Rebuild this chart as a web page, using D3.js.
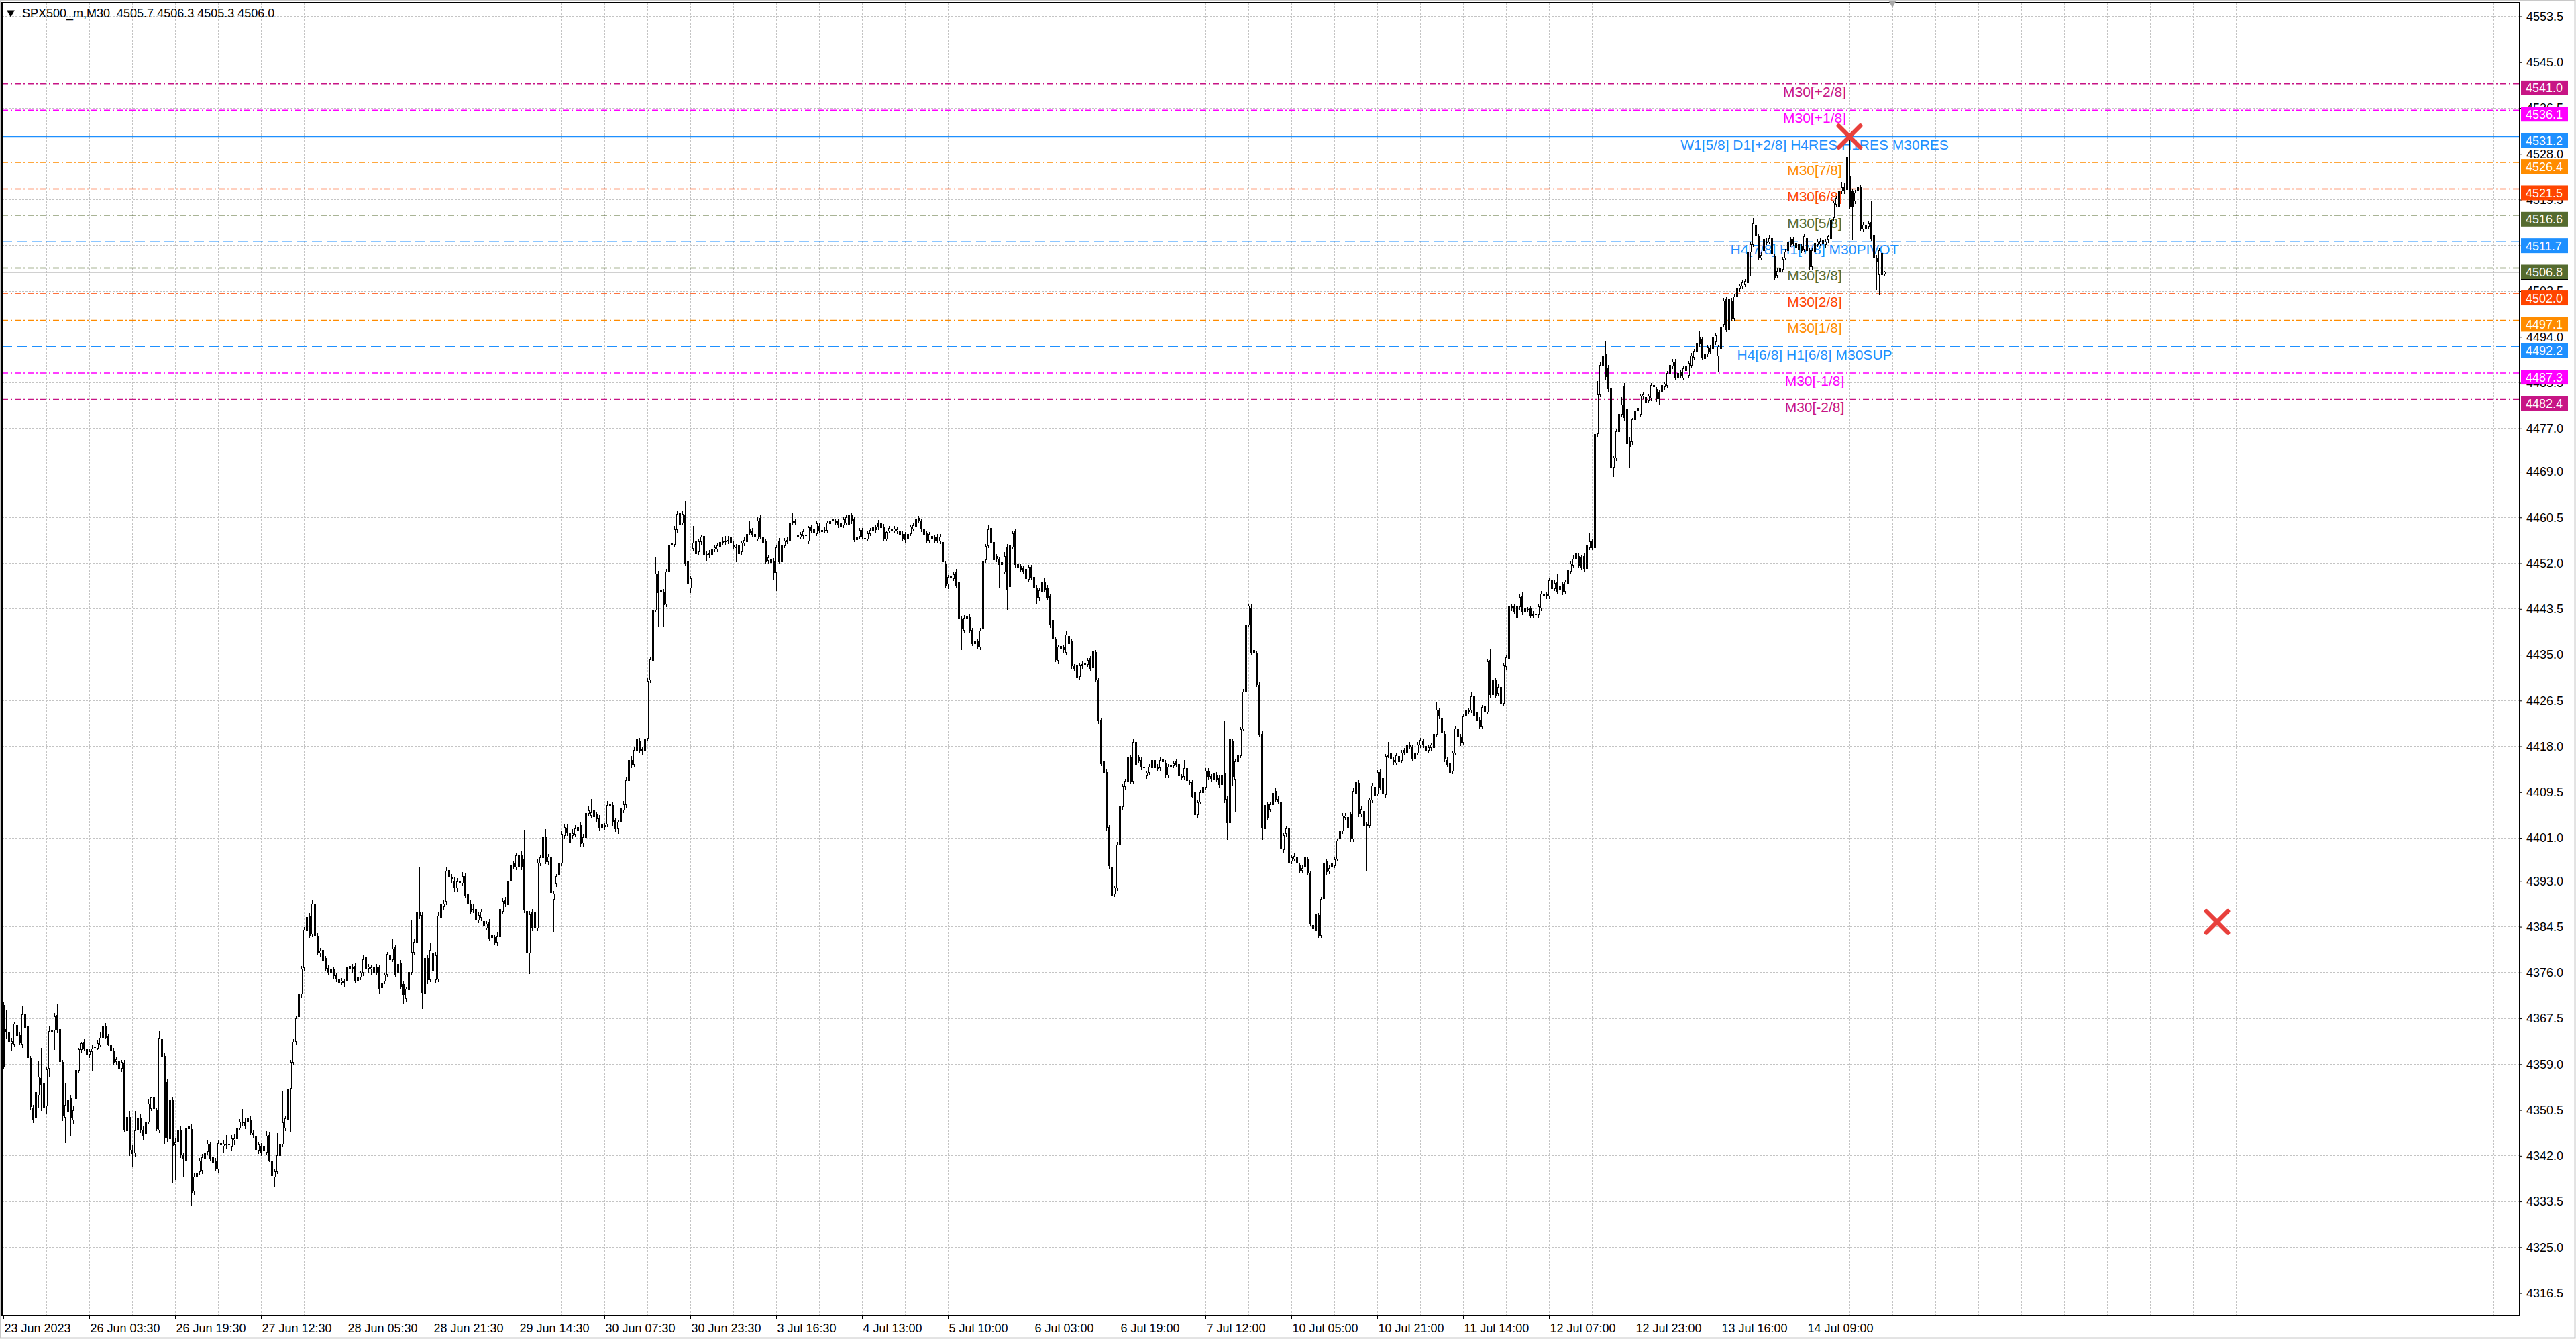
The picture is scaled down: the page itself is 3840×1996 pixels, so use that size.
<!DOCTYPE html>
<html>
<head>
<meta charset="utf-8">
<script src="https://cdn.jsdelivr.net/npm/d3@7"></script>
<style>
  html, body { margin: 0; padding: 0; background: #fff; }
  svg { display: block; font-family: "Liberation Sans", Arial, sans-serif; }
</style>
</head>
<body>
<div id="chart"></div>
<script>
// SPX500_m M30 candles, [open, high, low, close]
const candlesJun23 = [
  [4369.9,4370.6,4358.0,4358.6],[4365.5,4369.0,4363.6,4364.9],[4364.8,4368.2,4362.0,4363.2],[4362.9,4363.8,4361.5,4363.2],[4362.7,4366.9,4362.2,4366.4],
  [4366.2,4366.8,4363.6,4364.3],[4364.3,4365.0,4362.6,4363.0],[4362.7,4369.7,4362.0,4368.2],[4368.3,4369.0,4365.2,4365.7],[4365.9,4366.5,4359.8,4360.2],
  [4360.1,4360.5,4350.5,4351.1],[4350.7,4351.5,4348.1,4348.7],[4349.1,4354.2,4346.6,4353.7],[4353.2,4359.5,4350.8,4356.6],[4356.4,4362.0,4350.3,4355.3],
  [4355.5,4356.0,4347.8,4351.0],[4351.2,4358.5,4349.8,4358.0],[4358.2,4366.0,4356.6,4365.1],[4365.0,4367.8,4364.2,4365.3],[4365.3,4368.5,4361.7,4367.8],
  [4368.1,4370.3,4364.8,4365.4],[4365.4,4366.0,4358.5,4359.5],[4359.3,4359.8,4348.5,4349.4],[4349.1,4355.5,4344.3,4351.4],[4350.1,4359.0,4349.5,4352.2],
  [4352.6,4353.2,4345.6,4349.1],[4348.7,4351.3,4347.9,4350.4],[4352.6,4359.4,4352.0,4357.8],[4357.8,4362.0,4357.4,4361.7],[4361.7,4363.2,4361.0,4362.8],
  [4363.1,4363.6,4361.5,4362.0],[4361.7,4362.4,4357.8,4360.9],[4360.9,4361.9,4360.2,4361.3],[4361.3,4362.5,4357.8,4361.8],[4362.1,4364.9,4361.5,4362.2],
  [4362.0,4363.4,4361.6,4362.8],[4362.6,4364.9,4362.2,4363.8],[4364.0,4366.4,4363.6,4366.1],[4366.1,4366.6,4363.6,4364.0],[4364.2,4364.6,4362.4,4362.6],
  [4362.5,4363.2,4361.0,4361.5],[4361.5,4362.0,4358.9,4359.4],[4359.5,4360.4,4358.8,4359.9],[4359.5,4360.0,4357.6,4358.2],[4358.2,4359.8,4357.6,4359.3],
  [4359.2,4359.8,4346.5,4346.9],[4346.6,4349.6,4340.0,4349.1],[4349.2,4350.3,4342.0,4343.1],[4343.1,4344.0,4340.0,4342.4],[4342.5,4350.3,4341.9,4346.6],
  [4346.8,4350.3,4346.0,4348.9],[4348.9,4349.8,4346.2,4346.8],[4346.7,4347.4,4345.0,4345.8],[4346.0,4348.8,4345.5,4348.3],[4348.3,4352.6,4347.8,4351.6],
  [4350.8,4353.0,4350.3,4352.8],[4352.8,4354.1,4350.2,4350.7],[4350.4,4351.0,4346.6,4347.0],[4346.8,4365.2,4346.2,4363.7],[4363.6,4367.2,4359.8,4360.5],
  [4360.5,4361.2,4344.1,4345.4],[4355.6,4356.3,4344.6,4345.3],[4352.2,4353.2,4344.6,4345.1],[4352.2,4352.8,4336.9,4343.9],[4344.0,4345.2,4337.5,4344.4],
  [4344.5,4347.2,4344.0,4346.6],[4346.8,4347.6,4341.6,4342.2],[4342.0,4342.6,4338.0,4341.4],[4341.2,4349.7,4340.6,4347.1],[4347.5,4348.6,4346.6,4347.0],
  [4346.9,4347.8,4332.8,4335.2],[4335.4,4338.8,4334.6,4338.1],[4338.1,4339.4,4337.2,4338.8],[4339.1,4341.6,4338.4,4341.0],[4339.3,4342.3,4338.6,4341.7],
  [4341.6,4343.2,4341.0,4342.5],[4342.8,4344.9,4342.2,4344.2],[4344.0,4344.5,4341.0,4341.5],[4341.8,4342.4,4340.2,4340.8],[4341.0,4341.6,4339.1,4339.7],
  [4339.5,4344.9,4338.8,4344.3],[4344.3,4345.4,4343.4,4344.0],[4343.8,4344.8,4342.6,4344.1],[4344.0,4345.8,4343.2,4344.2],[4344.2,4345.2,4343.0,4344.0],
  [4343.7,4345.9,4342.8,4345.1],[4344.9,4346.0,4344.0,4345.1],[4345.1,4347.8,4344.4,4347.1],[4347.2,4348.8,4346.8,4348.3],[4348.2,4350.7,4347.6,4348.3],
  [4348.3,4349.0,4347.0,4347.6],[4348.3,4352.6,4347.8,4348.9],[4348.6,4349.4,4345.8,4346.3],[4346.2,4346.8,4345.3,4345.9],[4345.7,4346.3,4342.6,4343.1],
  [4342.9,4344.6,4342.3,4344.0],[4343.8,4344.4,4342.0,4342.7],[4343.8,4344.3,4342.4,4342.9],[4342.7,4346.6,4342.1,4345.7],[4345.8,4346.4,4340.8,4341.2],
  [4341.0,4341.6,4336.9,4338.3],[4338.1,4339.6,4336.3,4339.1],[4339.1,4346.2,4338.6,4342.0],[4342.0,4344.8,4341.4,4344.2],[4344.1,4353.9,4343.6,4348.2],
  [4347.2,4349.4,4346.6,4348.9],[4348.7,4355.1,4348.1,4354.4],[4354.5,4359.8,4346.4,4359.3],[4359.4,4363.6,4358.8,4363.1],[4363.2,4368.0,4362.6,4367.5],
  [4367.8,4372.6,4367.2,4372.0],[4372.0,4377.2,4371.4,4376.6],[4376.9,4384.4,4376.3,4383.9],[4383.7,4387.3,4383.1,4386.2],[4386.4,4387.0,4382.4,4382.9],
  [4383.2,4389.4,4382.6,4388.8],[4388.7,4389.8,4382.3,4382.8],[4382.7,4383.3,4379.4,4379.8],[4379.6,4380.6,4379.0,4380.0],[4380.2,4380.8,4377.8,4378.3],
  [4378.6,4379.1,4376.3,4376.8],[4376.8,4377.4,4375.6,4376.1],[4376.1,4376.9,4375.4,4376.5],[4376.6,4377.1,4374.8,4375.4],[4375.5,4376.0,4374.2,4374.8],
  [4374.8,4375.3,4372.6,4374.0],[4374.2,4375.0,4373.6,4374.4],[4374.4,4374.9,4373.4,4374.2],[4374.4,4378.3,4373.9,4376.9],[4377.1,4378.8,4376.3,4376.7],
  [4376.9,4377.6,4376.0,4376.8],[4377.2,4377.8,4374.0,4374.6],[4374.6,4375.6,4373.8,4375.1],[4375.2,4376.3,4374.6,4375.9],[4376.0,4379.4,4375.4,4378.4],
  [4378.8,4380.2,4376.1,4376.7],[4376.8,4377.6,4376.0,4377.0],[4376.6,4377.5,4375.6,4376.9],[4377.0,4380.9,4375.3,4375.9],[4377.0,4377.6,4375.6,4376.1],
  [4376.9,4377.5,4372.1,4373.1],[4373.2,4374.6,4372.6,4374.1],[4374.4,4375.9,4373.8,4375.5],[4375.7,4379.8,4375.2,4379.4]
];

const candlesJun28 = [
  [4379.3,4379.9,4378.0,4378.4],[4378.4,4382.2,4378.0,4380.4],[4380.6,4381.2,4375.2,4375.7],[4376.0,4378.0,4375.4,4377.5],[4377.7,4378.3,4373.0,4373.4],
  [4373.8,4374.4,4370.3,4371.9],[4371.2,4373.4,4370.6,4372.9],[4372.8,4376.5,4372.2,4376.0],[4376.1,4385.8,4375.6,4379.8],[4379.8,4382.2,4379.2,4381.7],
  [4381.7,4388.4,4381.2,4387.3],[4387.1,4395.7,4386.0,4386.5],[4386.6,4387.2,4369.3,4372.3],[4372.2,4378.9,4371.6,4378.7],[4378.7,4379.4,4373.9,4374.7],
  [4374.7,4381.4,4374.2,4380.1],[4379.7,4380.3,4369.8,4376.3],[4374.7,4379.8,4374.0,4379.2],[4374.8,4387.2,4374.2,4386.5],[4386.2,4391.1,4385.6,4388.7],
  [4388.2,4389.4,4387.6,4388.8],[4389.2,4395.5,4388.6,4394.9],[4395.0,4395.6,4393.2,4393.8],[4393.6,4394.3,4392.6,4393.3],[4392.8,4393.6,4391.0,4391.7],
  [4391.7,4393.5,4391.1,4392.8],[4392.8,4393.8,4392.0,4392.6],[4392.6,4394.6,4392.0,4393.8],[4393.8,4394.4,4389.8,4390.3],[4390.6,4391.2,4388.2,4388.7],
  [4388.8,4389.4,4386.8,4387.4],[4387.7,4388.8,4387.0,4387.7],[4387.7,4388.2,4385.2,4385.8],[4385.8,4387.3,4385.2,4386.6],[4386.2,4387.8,4385.6,4387.2],
  [4385.5,4386.0,4384.0,4384.6],[4384.3,4385.6,4383.8,4385.0],[4385.4,4386.0,4381.8,4382.4],[4382.5,4383.4,4382.0,4382.9],[4382.5,4383.0,4381.1,4381.7],
  [4381.7,4383.4,4381.0,4382.7],[4382.7,4388.2,4382.2,4387.7],[4387.4,4389.8,4386.8,4389.2],[4389.5,4390.1,4388.2,4388.7],[4388.6,4393.5,4388.0,4392.9],
  [4393.1,4396.4,4392.6,4395.8],[4396.2,4396.8,4395.2,4395.7],[4395.6,4398.3,4395.0,4397.7],[4397.8,4398.4,4395.1,4395.7],[4397.8,4398.5,4395.0,4395.6],
  [4396.9,4402.5,4387.1,4387.7],[4387.4,4388.0,4379.1,4379.7],[4379.7,4387.4,4375.7,4386.8],[4387.1,4387.8,4383.7,4384.3],[4387.1,4388.0,4383.8,4384.3],
  [4384.3,4397.0,4383.7,4396.3],[4396.4,4397.9,4395.8,4397.3],[4397.3,4401.6,4396.8,4401.1],[4401.2,4402.6,4396.1,4396.6],[4396.6,4398.0,4396.0,4397.4],
  [4397.4,4398.0,4390.4,4390.9],[4389.6,4391.2,4383.6,4390.6],[4392.5,4394.3,4391.9,4393.8],[4394.1,4396.8,4393.6,4396.3],[4396.3,4402.2,4395.8,4401.7],
  [4401.4,4403.6,4400.8,4403.0],[4402.8,4403.5,4401.4,4402.0],[4400.1,4402.4,4399.6,4401.8],[4401.5,4402.6,4400.8,4401.8],[4401.7,4403.4,4401.2,4402.7],
  [4402.4,4403.8,4401.8,4403.0],[4403.3,4404.0,4399.4,4399.9],[4400.1,4401.8,4399.4,4401.1],[4401.1,4406.2,4400.6,4405.5],[4405.5,4406.8,4405.0,4406.0],
  [4405.2,4408.2,4404.7,4405.7],[4406.0,4406.6,4404.3,4404.9],[4405.3,4405.9,4404.0,4404.6],[4404.7,4405.2,4402.2,4402.8],[4402.8,4404.0,4402.2,4403.4],
  [4403.1,4403.8,4402.5,4403.3],[4403.6,4407.8,4403.0,4407.1],[4407.1,4408.7,4406.5,4407.2],[4407.0,4407.6,4403.3,4403.9],[4404.2,4404.8,4402.1,4402.7],
  [4402.7,4404.4,4401.8,4403.9],[4404.1,4406.9,4403.6,4406.5],[4406.2,4407.8,4405.6,4407.2],[4407.2,4412.3,4406.6,4411.7],[4411.6,4415.9,4411.0,4415.4],
  [4415.4,4416.2,4414.0,4414.6],[4414.7,4417.8,4414.1,4417.3],[4419.2,4421.7,4416.8,4417.3],[4418.9,4419.6,4416.7,4417.3],[4417.4,4418.0,4416.4,4417.2],
  [4417.3,4419.8,4416.6,4419.2],[4419.5,4430.6,4419.0,4430.1],[4430.3,4434.6,4429.8,4434.1],[4433.8,4443.8,4433.2,4443.3],[4443.3,4453.2,4442.8,4450.0],
  [4450.0,4450.6,4440.1,4446.5],[4446.8,4448.0,4445.6,4446.9],[4446.6,4447.2,4440.1,4444.3],[4444.4,4450.9,4443.8,4450.4],[4450.4,4455.8,4449.9,4455.2],
  [4455.4,4456.3,4454.8,4455.7],[4455.5,4458.9,4455.0,4458.2],[4458.2,4461.6,4457.7,4461.1],[4461.2,4461.8,4458.7,4459.2],[4459.5,4461.7,4459.0,4461.1],
  [4460.8,4463.5,4451.4,4451.9],[4452.2,4452.8,4447.6,4448.1],[4447.4,4449.6,4446.5,4449.2],[4454.7,4458.9,4454.2,4455.7],[4456.0,4456.6,4453.4,4453.8],
  [4454.1,4456.5,4453.6,4456.0],[4456.0,4457.3,4455.4,4456.8],[4457.0,4457.6,4453.1,4453.6],[4453.6,4454.2,4452.5,4453.5],[4453.6,4454.4,4453.0,4453.8],
  [4453.6,4455.1,4453.0,4454.6],[4454.6,4455.4,4454.0,4454.9],[4454.6,4455.8,4454.1,4455.2],[4455.0,4456.4,4454.5,4455.9],[4456.0,4456.8,4455.4,4456.0],
  [4456.0,4457.0,4455.3,4456.1],[4456.2,4457.1,4455.6,4456.3],[4455.7,4457.4,4455.2,4456.8],[4455.4,4456.0,4454.6,4455.0],[4455.0,4455.6,4452.2,4454.9],
  [4453.8,4455.9,4453.2,4455.4],[4454.1,4456.2,4453.6,4455.7],[4455.7,4456.9,4455.2,4456.3],[4456.0,4457.9,4455.4,4457.3],[4458.2,4459.8,4457.2,4457.6],
  [4458.0,4458.6,4456.9,4457.4],[4457.4,4458.0,4456.3,4456.8],[4456.5,4460.5,4456.0,4459.8],[4460.3,4460.9,4456.4,4457.0],[4456.8,4457.4,4455.2,4455.7],
  [4456.0,4456.6,4451.8,4452.3],[4452.5,4453.6,4452.0,4453.0],[4452.7,4453.3,4451.5,4452.1],[4452.3,4452.9,4449.0,4450.3],[4450.3,4455.4,4446.8,4454.9],
  [4456.1,4456.7,4451.8,4452.3],[4452.2,4455.9,4451.6,4455.4],[4455.2,4456.7,4454.8,4456.1],[4456.0,4456.9,4455.5,4456.3],[4456.3,4459.9,4455.8,4459.3]
];

const candlesJul03 = [
  [4459.6,4461.3,4459.0,4459.7],[4459.7,4460.3,4459.1,4459.6],[4456.9,4457.6,4456.4,4457.1],[4456.9,4457.8,4456.5,4457.4],[4457.1,4458.3,4456.6,4457.8],
  [4457.1,4457.6,4455.3,4457.2],[4456.1,4458.9,4455.6,4458.6],[4458.6,4459.2,4457.6,4458.1],[4458.4,4458.9,4457.1,4457.6],[4457.5,4459.8,4457.0,4459.3],
  [4458.9,4459.5,4457.6,4458.1],[4457.8,4458.6,4457.3,4458.1],[4458.0,4458.7,4457.5,4458.1],[4458.1,4459.9,4457.6,4459.5],[4459.3,4460.4,4458.8,4459.9],
  [4460.1,4460.7,4459.4,4459.9],[4459.8,4460.3,4459.0,4459.5],[4459.7,4460.2,4458.6,4459.1],[4458.9,4460.0,4458.4,4459.5],[4459.1,4460.6,4458.6,4460.1],
  [4459.5,4461.0,4459.0,4460.5],[4459.1,4461.5,4458.6,4460.8],[4460.8,4461.3,4459.3,4459.8],[4460.1,4460.6,4455.9,4456.4],[4456.4,4457.4,4455.9,4456.9],
  [4457.0,4458.6,4456.5,4458.1],[4458.1,4458.6,4456.5,4457.0],[4456.5,4457.1,4454.3,4456.6],[4456.5,4457.9,4456.0,4457.5],[4457.5,4458.6,4457.0,4458.1],
  [4458.1,4459.1,4457.6,4458.6],[4458.6,4459.1,4457.7,4458.2],[4459.5,4460.0,4458.2,4458.7],[4459.5,4460.0,4458.1,4458.6],[4458.7,4459.3,4456.0,4456.5],
  [4456.5,4458.1,4456.0,4457.7],[4458.0,4458.9,4457.5,4458.5],[4458.4,4458.9,4457.6,4458.1],[4458.0,4458.9,4457.5,4458.4],[4458.0,4458.7,4457.4,4458.2],
  [4458.0,4458.5,4456.8,4457.3],[4457.4,4457.9,4456.0,4456.5],[4457.3,4457.8,4455.7,4456.4],[4456.6,4457.8,4456.1,4457.3],[4457.5,4459.2,4457.0,4458.7],
  [4458.4,4459.4,4457.9,4459.0],[4458.7,4460.6,4458.2,4460.2],[4460.4,4460.8,4459.5,4460.0],[4459.7,4460.2,4457.8,4458.3],[4458.2,4458.7,4456.9,4457.4],
  [4457.5,4458.0,4455.8,4456.3],[4456.3,4457.8,4455.8,4457.3],[4457.0,4457.5,4456.0,4456.5],[4456.8,4457.3,4455.8,4456.3],[4456.9,4457.4,4455.8,4456.3],
  [4456.1,4457.4,4455.6,4456.9],[4455.9,4456.4,4451.7,4452.2],[4451.9,4452.4,4447.4,4447.9],[4448.2,4449.8,4447.2,4449.4],[4449.6,4450.1,4448.9,4449.4],
  [4449.2,4450.4,4448.7,4449.9],[4450.4,4450.9,4447.4,4447.9],[4448.4,4448.9,4441.3,4441.8],[4441.7,4442.2,4435.9,4439.8],[4439.5,4442.3,4439.0,4441.8],
  [4441.7,4443.3,4441.2,4442.2],[4442.0,4442.6,4439.0,4439.5],[4439.5,4440.0,4436.6,4437.1],[4437.1,4438.1,4434.6,4437.6],[4437.4,4437.9,4436.0,4436.6],
  [4436.4,4440.0,4435.9,4439.4],[4439.8,4452.8,4439.3,4452.3],[4452.6,4455.6,4452.1,4455.1],[4455.3,4459.2,4454.8,4458.2],[4458.5,4459.3,4455.3,4455.8],
  [4455.9,4456.4,4452.1,4452.6],[4453.2,4453.7,4452.2,4452.7],[4452.7,4453.2,4447.4,4451.8],[4452.1,4452.6,4451.3,4451.8],[4450.4,4454.0,4449.9,4453.3],
  [4455.0,4455.5,4443.3,4447.2],[4447.6,4455.8,4447.1,4455.3],[4455.0,4458.0,4454.5,4457.5],[4457.8,4458.3,4451.2,4451.7],[4451.8,4452.3,4450.6,4451.1],
  [4451.5,4452.0,4450.4,4450.9],[4451.0,4451.5,4450.0,4450.5],[4450.9,4451.4,4448.6,4449.1],[4449.0,4451.7,4448.5,4451.2],[4451.2,4451.7,4448.8,4449.4],
  [4449.4,4449.9,4446.9,4447.4],[4447.4,4447.9,4444.5,4445.5],[4445.7,4447.5,4445.0,4446.9],[4446.8,4448.8,4446.3,4448.4],[4448.4,4449.2,4446.7,4447.2],
  [4447.4,4447.9,4445.2,4445.7],[4445.8,4446.3,4440.0,4440.5],[4441.4,4441.9,4437.4,4437.9],[4437.8,4438.3,4433.6,4434.1],[4433.9,4436.9,4433.3,4436.4],
  [4436.1,4437.1,4435.6,4436.6],[4436.4,4436.9,4435.4,4435.9],[4435.4,4439.4,4434.9,4438.7],[4438.4,4438.9,4436.6,4437.1],[4437.4,4437.9,4432.4,4432.9],
  [4432.8,4433.3,4432.0,4432.5],[4432.9,4433.4,4430.3,4430.8],[4430.9,4433.4,4430.4,4432.9],[4432.9,4433.7,4432.4,4433.2],[4433.4,4433.9,4432.7,4433.2],
  [4433.2,4434.4,4432.7,4433.9],[4434.3,4434.8,4432.0,4432.5],[4432.6,4436.1,4432.1,4435.6],[4435.4,4435.9,4429.9,4430.4],[4430.3,4430.8,4422.2,4422.7],
  [4422.8,4423.3,4414.3,4414.8],[4415.2,4415.7,4410.8,4413.0],[4413.2,4413.7,4402.4,4402.9],[4402.9,4403.4,4395.3,4395.8],[4395.5,4396.0,4389.1,4390.4],
  [4390.6,4392.2,4390.1,4391.7],[4391.7,4400.2,4391.2,4399.7],[4399.7,4407.3,4399.2,4406.8],[4406.8,4411.0,4406.3,4410.5],[4410.5,4412.0,4410.0,4411.5],
  [4411.5,4416.4,4411.0,4415.9],[4415.9,4416.4,4411.0,4411.5],[4411.5,4419.4,4411.0,4418.7],[4418.7,4419.2,4414.2,4414.7],[4415.9,4416.4,4414.9,4415.4],
  [4415.4,4415.9,4413.6,4414.1],[4414.2,4414.7,4413.5,4414.0],[4412.5,4413.5,4412.0,4413.0],[4413.2,4414.7,4412.7,4414.2],[4414.0,4415.9,4413.5,4415.4],
  [4415.4,4415.9,4413.5,4414.0],[4414.2,4414.7,4413.3,4413.8],[4414.0,4415.9,4413.5,4415.4],[4415.2,4416.7,4414.7,4415.7],[4414.9,4415.4,4412.2,4412.7],
  [4412.7,4414.7,4412.2,4414.2],[4414.1,4414.9,4413.6,4414.4],[4414.4,4415.2,4413.9,4414.8],[4415.2,4415.7,4414.2,4414.5],[4414.7,4415.2,4412.0,4412.5]
];

const candlesJul07 = [
  [4412.4,4412.9,4411.7,4412.1],[4412.4,4415.4,4411.9,4413.9],[4413.9,4414.4,4411.1,4411.6],[4411.4,4411.9,4410.9,4411.3],[4411.4,4411.9,4408.5,4408.7],
  [4409.4,4409.9,4404.8,4405.3],[4405.3,4408.0,4404.6,4407.5],[4407.7,4409.9,4407.2,4409.4],[4409.4,4410.9,4408.9,4410.4],[4410.4,4414.0,4409.9,4413.4],
  [4413.4,4413.9,4411.9,4412.4],[4412.4,4412.9,4411.5,4412.0],[4411.9,4413.4,4411.4,4412.9],[4412.7,4413.2,4411.4,4411.9],[4412.1,4412.6,4410.4,4410.9],
  [4410.9,4413.1,4410.4,4412.6],[4412.9,4422.7,4407.5,4408.0],[4408.2,4408.7,4400.6,4403.8],[4403.8,4419.8,4403.3,4419.3],[4419.0,4419.5,4410.7,4412.4],
  [4411.9,4415.7,4405.8,4415.2],[4415.1,4416.8,4414.6,4416.3],[4416.3,4421.6,4415.8,4421.1],[4421.3,4428.6,4420.8,4428.1],[4428.1,4440.9,4427.6,4440.4],
  [4440.6,4444.4,4440.1,4444.0],[4443.7,4444.4,4435.0,4435.5],[4435.8,4436.3,4434.9,4435.4],[4435.3,4435.8,4429.0,4429.5],[4429.4,4429.9,4419.8,4420.3],
  [4420.3,4420.8,4400.6,4403.0],[4402.7,4407.6,4402.2,4407.1],[4407.2,4407.7,4404.3,4404.8],[4406.3,4407.7,4405.8,4407.2],[4407.2,4409.8,4406.7,4409.3],
  [4409.7,4410.2,4407.7,4408.2],[4408.2,4408.7,4407.2,4407.7],[4407.7,4408.2,4398.4,4398.9],[4398.8,4401.9,4398.3,4401.4],[4401.8,4403.2,4401.3,4402.7],
  [4402.8,4403.3,4395.9,4396.4],[4396.7,4397.8,4396.2,4397.3],[4397.1,4398.1,4396.6,4397.6],[4397.4,4397.9,4395.8,4396.3],[4395.9,4396.4,4394.4,4394.9],
  [4395.0,4395.9,4394.5,4395.4],[4395.7,4397.8,4395.2,4397.3],[4397.0,4397.5,4394.0,4394.5],[4394.4,4394.9,4384.6,4385.1],[4384.7,4385.2,4382.1,4384.1],
  [4383.7,4387.3,4383.2,4386.8],[4386.6,4387.1,4382.4,4382.9],[4382.9,4390.1,4382.4,4389.6],[4389.8,4396.9,4389.3,4396.4],[4396.7,4397.2,4394.2,4394.7],
  [4394.8,4395.9,4394.3,4395.4],[4395.7,4396.7,4395.2,4396.2],[4395.9,4397.5,4395.4,4397.0],[4397.1,4400.9,4396.6,4400.4],[4400.8,4402.8,4400.3,4402.3],
  [4402.3,4405.6,4401.8,4405.1],[4404.8,4405.6,4404.3,4405.1],[4404.8,4405.3,4402.3,4402.8],[4405.4,4405.9,4400.3,4400.8],[4400.8,4410.2,4400.3,4409.7],
  [4409.2,4417.2,4408.7,4411.4],[4411.2,4411.7,4404.9,4405.4],[4405.4,4406.8,4404.9,4406.3],[4405.9,4406.4,4398.9,4403.3],[4403.4,4403.9,4394.9,4403.2],
  [4403.3,4408.5,4402.8,4408.0],[4408.0,4411.2,4407.5,4410.7],[4410.4,4410.9,4408.3,4408.8],[4409.2,4413.6,4408.7,4413.1],[4413.2,4413.7,4409.9,4410.4],
  [4412.1,4412.6,4408.7,4409.2],[4409.0,4416.6,4408.5,4416.1],[4416.2,4418.8,4415.8,4416.3],[4416.7,4417.2,4415.3,4415.8],[4415.2,4415.9,4414.6,4415.4],
  [4414.9,4416.8,4414.4,4416.3],[4416.2,4416.7,4414.7,4415.2],[4415.4,4417.3,4414.9,4416.8],[4417.2,4417.7,4416.3,4416.8],[4416.8,4418.8,4416.3,4418.3],
  [4418.3,4418.8,4417.5,4418.0],[4417.8,4418.3,4415.2,4415.7],[4415.6,4417.3,4415.1,4416.8],[4416.8,4418.8,4416.3,4418.3],[4418.2,4419.6,4417.7,4419.1],
  [4419.0,4419.5,4417.7,4418.2],[4418.0,4418.5,4416.6,4417.1],[4417.3,4418.3,4416.8,4417.8],[4417.7,4418.7,4417.2,4418.2],[4417.8,4420.8,4417.3,4420.3],
  [4420.3,4426.2,4419.8,4424.7],[4424.7,4425.2,4423.1,4423.6],[4423.2,4423.7,4420.1,4420.6],[4420.3,4420.8,4415.1,4415.6],[4415.4,4415.9,4414.2,4414.7],
  [4414.9,4415.4,4410.2,4413.2],[4413.4,4417.2,4412.9,4416.7],[4416.8,4421.8,4416.3,4421.3],[4421.3,4421.8,4419.3,4419.8],[4419.8,4420.3,4418.1,4418.6],
  [4418.8,4424.0,4418.3,4423.5],[4423.6,4425.2,4423.1,4424.7],[4424.7,4425.2,4423.9,4424.4],[4424.7,4428.1,4424.2,4427.2],[4427.4,4427.9,4423.1,4423.6],
  [4424.2,4424.7,4413.1,4422.7],[4422.9,4423.4,4421.2,4421.7],[4421.7,4425.7,4421.2,4425.2],[4425.4,4425.9,4424.0,4424.5],[4424.4,4434.2,4423.9,4433.7],
  [4433.9,4436.0,4426.9,4427.6],[4427.6,4430.8,4427.1,4430.3],[4430.3,4430.8,4427.0,4427.5],[4427.9,4429.5,4427.4,4429.0],[4429.0,4429.5,4425.5,4426.0],
  [4426.0,4433.4,4425.5,4432.9],[4432.8,4435.0,4432.3,4434.5],[4434.3,4449.3,4433.8,4444.0],[4443.9,4444.4,4443.1,4443.6],[4443.9,4444.4,4442.6,4443.1],
  [4441.9,4444.4,4441.4,4443.9],[4443.9,4446.2,4443.4,4445.7],[4445.9,4446.6,4442.4,4442.9],[4443.6,4444.1,4442.5,4443.0],[4443.4,4443.9,4442.9,4443.4],
  [4443.5,4444.0,4441.8,4442.3],[4442.6,4443.1,4441.8,4442.3],[4442.6,4443.1,4442.0,4442.4],[4442.4,4444.4,4441.9,4443.9],[4443.6,4446.8,4443.1,4446.3],
  [4446.3,4446.8,4445.4,4445.9],[4446.1,4446.6,4445.4,4445.9],[4445.9,4449.3,4445.4,4448.8],[4448.9,4449.4,4446.8,4447.3],[4447.3,4448.8,4446.8,4448.3],
  [4448.5,4449.9,4446.3,4446.8],[4447.1,4448.3,4446.6,4447.8],[4448.1,4448.6,4446.1,4446.6],[4446.8,4449.0,4446.3,4448.5],[4448.3,4451.5,4447.8,4450.8]
];

const candlesJul12 = [
  [4450.5,4452.4,4450.0,4451.9],[4451.6,4453.5,4451.1,4452.7],[4452.7,4454.3,4452.2,4453.8],[4453.3,4453.8,4451.1,4451.6],[4453.0,4453.5,4450.8,4451.3],
  [4453.3,4453.8,4450.5,4451.0],[4451.0,4455.7,4450.5,4455.2],[4454.9,4457.7,4454.4,4456.0],[4456.0,4456.5,4454.4,4454.9],[4454.9,4476.4,4454.4,4475.9],
  [4476.0,4485.8,4475.5,4483.3],[4483.3,4489.3,4482.8,4488.8],[4488.8,4491.9,4488.3,4490.5],[4490.8,4493.2,4486.1,4486.6],[4488.3,4488.8,4483.8,4484.4],
  [4484.4,4484.9,4467.9,4469.8],[4469.8,4472.0,4468.0,4471.5],[4471.5,4476.8,4471.0,4476.4],[4476.4,4480.2,4475.9,4479.7],[4479.7,4482.8,4479.2,4481.4],
  [4484.8,4485.5,4478.4,4479.0],[4480.5,4481.0,4473.7,4474.2],[4474.6,4475.4,4469.8,4473.5],[4474.5,4479.0,4473.9,4478.6],[4478.6,4480.7,4478.1,4480.3],
  [4480.3,4481.4,4479.6,4480.8],[4479.7,4483.5,4479.2,4483.0],[4483.0,4483.8,4482.4,4483.3],[4482.8,4483.3,4481.4,4481.9],[4482.2,4483.5,4481.7,4483.0],
  [4482.6,4485.5,4482.1,4485.0],[4484.8,4486.0,4484.3,4485.0],[4484.2,4484.7,4482.0,4482.5],[4483.6,4484.1,4481.3,4482.5],[4483.9,4485.5,4483.4,4485.0],
  [4484.7,4485.7,4484.2,4485.2],[4485.0,4487.7,4484.5,4487.2],[4487.2,4489.2,4486.7,4488.7],[4488.6,4489.9,4488.1,4489.4],[4489.4,4489.9,4485.9,4486.4],
  [4487.2,4487.7,4486.0,4486.5],[4487.4,4487.9,4486.3,4486.8],[4486.4,4488.6,4485.9,4488.1],[4488.6,4489.1,4487.2,4487.7],[4486.9,4489.6,4486.4,4489.1],
  [4488.8,4491.0,4488.3,4490.5],[4490.2,4491.8,4489.7,4491.3],[4491.3,4493.2,4490.8,4492.7],[4493.8,4495.2,4492.2,4492.7],[4493.5,4494.0,4489.7,4490.2],
  [4490.8,4491.3,4489.5,4490.0],[4490.8,4492.5,4490.3,4492.0],[4491.9,4492.4,4490.8,4491.3],[4491.9,4494.3,4491.4,4493.8],[4493.1,4494.7,4492.6,4494.2],
  [4490.5,4492.6,4487.6,4492.1],[4491.9,4496.2,4491.4,4495.7],[4496.3,4501.2,4495.8,4500.7],[4501.0,4501.5,4494.9,4495.4],[4495.4,4501.5,4494.9,4501.0],
  [4500.7,4501.2,4496.9,4497.5],[4497.4,4501.9,4496.9,4501.4],[4501.4,4503.4,4500.9,4502.9],[4502.9,4503.9,4502.4,4503.4],[4503.4,4504.6,4502.9,4504.1],
  [4503.7,4504.8,4503.2,4504.3],[4504.0,4510.3,4499.5,4509.8],[4509.8,4511.7,4505.4,4511.2],[4511.2,4516.1,4510.7,4515.0],[4514.8,4521.1,4512.3,4512.8],
  [4512.6,4513.1,4508.2,4508.7],[4508.7,4509.7,4508.2,4509.2],[4510.1,4512.5,4509.6,4512.0],[4511.7,4512.3,4511.1,4511.6],[4511.7,4512.8,4511.2,4512.3],
  [4512.3,4512.8,4509.0,4509.5],[4509.0,4509.5,4504.6,4505.1],[4505.4,4506.7,4504.9,4506.2],[4506.2,4507.3,4505.7,4506.8],[4506.5,4508.9,4506.0,4508.4],
  [4508.7,4510.3,4508.2,4509.8],[4510.1,4512.2,4509.6,4511.7],[4512.0,4512.5,4510.7,4511.2],[4512.0,4512.5,4510.9,4511.4],[4511.4,4511.9,4510.1,4510.6],
  [4510.3,4511.7,4509.8,4511.2],[4510.9,4511.4,4509.6,4510.1],[4510.3,4513.1,4509.8,4512.6],[4512.3,4512.8,4509.6,4510.1],[4510.1,4510.6,4506.5,4507.0],
  [4507.0,4510.6,4506.5,4510.1],[4509.8,4511.9,4509.3,4511.4],[4511.2,4512.2,4510.7,4511.7],[4511.3,4512.3,4510.8,4511.8],[4511.3,4512.4,4510.8,4511.9],
  [4511.2,4512.2,4510.6,4511.7],[4512.0,4513.0,4511.5,4512.6],[4512.3,4515.9,4511.8,4515.6],[4516.1,4519.2,4515.6,4518.9],[4518.6,4520.2,4518.1,4519.7],
  [4518.3,4521.6,4517.8,4521.1],[4521.1,4522.8,4520.6,4521.8],[4521.8,4522.5,4520.6,4521.1],[4521.4,4528.8,4520.9,4527.4],[4523.9,4530.9,4517.8,4518.3],
  [4521.1,4521.6,4512.0,4518.3],[4519.2,4521.3,4518.7,4520.8],[4521.1,4525.0,4520.6,4521.8],[4521.7,4522.2,4513.7,4514.2],[4514.0,4515.3,4513.5,4514.8],
  [4514.0,4515.3,4508.7,4514.8],[4514.5,4515.5,4514.0,4515.0],[4515.3,4519.2,4511.8,4512.3],[4512.8,4513.3,4508.2,4508.7],[4508.7,4509.2,4502.6,4507.9],
  [4505.6,4510.6,4501.7,4510.1],[4509.5,4510.0,4505.1,4505.6],[4505.7,4506.3,4505.3,4506.0]
];

// time axis: one label every 32 bars, starting at the first bar
const timeLabels = ["23 Jun 2023", "26 Jun 03:30", "26 Jun 19:30", "27 Jun 12:30", "28 Jun 05:30", "28 Jun 21:30",
  "29 Jun 14:30", "30 Jun 07:30", "30 Jun 23:30", "3 Jul 16:30", "4 Jul 13:00", "5 Jul 10:00", "6 Jul 03:00",
  "6 Jul 19:00", "7 Jul 12:00", "10 Jul 05:00", "10 Jul 21:00", "11 Jul 14:00", "12 Jul 07:00", "12 Jul 23:00",
  "13 Jul 16:00", "14 Jul 09:00"];
const barsPerTimeLabel = 32;

const priceTicks = [4553.5, 4545.0, 4536.5, 4528.0, 4519.5, 4511.0, 4502.5, 4494.0, 4485.5, 4477.0, 4469.0,
  4460.5, 4452.0, 4443.5, 4435.0, 4426.5, 4418.0, 4409.5, 4401.0, 4393.0, 4384.5, 4376.0, 4367.5, 4359.0,
  4350.5, 4342.0, 4333.5, 4325.0, 4316.5];

// Murrey math levels drawn by the indicator
const levelPrices = [4541.0, 4536.1, 4531.2, 4526.4, 4521.5, 4516.6, 4511.7, 4506.8, 4502.0, 4497.1, 4492.2, 4487.3, 4482.4];
const levelNames = ["M30[+2/8]", "M30[+1/8]", "W1[5/8] D1[+2/8] H4RES H1RES M30RES", "M30[7/8]", "M30[6/8]", "M30[5/8]",
  "H4[7/8] H1[7/8] M30PIVOT", "M30[3/8]", "M30[2/8]", "M30[1/8]", "H4[6/8] H1[6/8] M30SUP", "M30[-1/8]", "M30[-2/8]"];
const levelKinds = ["ext2", "ext1", "res", "l71", "l62", "l53", "pivot", "l53", "l62", "l71", "sup", "ext1", "ext2"];
const levelTextBar = 675;

const symbolTitle = "SPX500_m,M30  4505.7 4506.3 4505.3 4506.0";
const bidPrice = 4506.0;
// red crosses placed by the indicator: [bar index, price]
const crossMarks = [[688, 4531.2], [825, 4385.4]];

// ---- styles and layout ----
const levelStyle = {
  ext2:  { color: "#C71585", dash: "9,4,2,4" },
  ext1:  { color: "#FF00FF", dash: "9,4,2,4" },
  res:   { color: "#1E90FF", dash: null },
  l71:   { color: "#FF8C00", dash: "9,4,2,4" },
  l62:   { color: "#FF4500", dash: "9,4,2,4" },
  l53:   { color: "#556B2F", dash: "9,4,2,4" },
  pivot: { color: "#1E90FF", dash: "15,7" },
  sup:   { color: "#1E90FF", dash: "15,7" }
};

const W = 3840, H = 1996;
const plot = { left: 3, top: 4, right: 3756, bottom: 1961 };
const barStep = 4;
const font = '"Liberation Sans", Arial, sans-serif';

const candles = [].concat(candlesJun23, candlesJun28, candlesJul03, candlesJul07, candlesJul12);

const x = d3.scaleLinear().domain([0, 1]).range([plot.left + 2, plot.left + 2 + barStep]);
const y = d3.scaleLinear().domain([4316.5, 4553.5]).range([1927.6, 24.5]);

const svg = d3.select("#chart").append("svg")
  .attr("width", W).attr("height", H)
  .attr("viewBox", `0 0 ${W} ${H}`);

svg.append("rect").attr("width", W).attr("height", H).attr("fill", "#fff");

svg.append("defs").append("clipPath").attr("id", "plotclip")
  .append("rect")
  .attr("x", plot.left).attr("y", plot.top)
  .attr("width", plot.right - plot.left).attr("height", plot.bottom - plot.top);

const inner = svg.append("g").attr("clip-path", "url(#plotclip)");

// grid
const lastGridBar = Math.floor(x.invert(plot.right));
inner.append("g").selectAll("line")
  .data(d3.range(16, lastGridBar + 1, 16))
  .join("line")
  .attr("x1", d => x(d)).attr("x2", d => x(d))
  .attr("y1", plot.top).attr("y2", plot.bottom)
  .attr("stroke", "#c4c4c4").attr("stroke-width", 1)
  .attr("stroke-dasharray", "3,2")
  .attr("shape-rendering", "crispEdges");

inner.append("g").selectAll("line")
  .data(priceTicks)
  .join("line")
  .attr("x1", plot.left).attr("x2", plot.right)
  .attr("y1", d => y(d)).attr("y2", d => y(d))
  .attr("stroke", "#c4c4c4").attr("stroke-width", 1)
  .attr("stroke-dasharray", "3,2")
  .attr("shape-rendering", "crispEdges");

// level lines
inner.append("g").selectAll("line")
  .data(levelPrices)
  .join("line")
  .attr("x1", plot.left).attr("x2", plot.right)
  .attr("y1", d => y(d)).attr("y2", d => y(d))
  .attr("stroke", (d, i) => levelStyle[levelKinds[i]].color)
  .attr("stroke-width", 1.5)
  .attr("stroke-dasharray", (d, i) => levelStyle[levelKinds[i]].dash);

// bid line
inner.append("line")
  .attr("x1", plot.left).attr("x2", plot.right)
  .attr("y1", y(bidPrice)).attr("y2", y(bidPrice))
  .attr("stroke", "#c0c0c0").attr("stroke-width", 1.5);

// level captions (candles are drawn over them)
inner.append("g").selectAll("text")
  .data(levelPrices)
  .join("text")
  .attr("x", x(levelTextBar))
  .attr("y", d => y(d) + 19)
  .attr("text-anchor", "middle")
  .attr("font-family", font)
  .attr("font-size", 21)
  .attr("fill", (d, i) => levelStyle[levelKinds[i]].color)
  .text((d, i) => levelNames[i]);

// candles: 1px wicks and outlines, white body up, black body down
const cg = inner.append("g").attr("shape-rendering", "crispEdges");
cg.selectAll("line")
  .data(candles)
  .join("line")
  .attr("x1", (d, i) => x(i) + 0.5).attr("x2", (d, i) => x(i) + 0.5)
  .attr("y1", d => y(d[1])).attr("y2", d => y(d[2]))
  .attr("stroke", "#000").attr("stroke-width", 1);

cg.selectAll("rect")
  .data(candles)
  .join("rect")
  .attr("x", (d, i) => x(i) - 0.5)
  .attr("width", 2)
  .attr("y", d => y(Math.max(d[0], d[3])))
  .attr("height", d => Math.max(1, Math.abs(y(d[0]) - y(d[3]))))
  .attr("fill", d => d[3] >= d[0] ? "#fff" : "#000")
  .attr("stroke", "#000").attr("stroke-width", 1);

// red crosses
svg.append("g").selectAll("path")
  .data(crossMarks)
  .join("path")
  .attr("transform", d => `translate(${x(d[0])},${y(d[1])})`)
  .attr("d", d3.symbol(d3.symbolTimes, 680))
  .attr("fill", "none")
  .attr("stroke", "#e8403c")
  .attr("stroke-width", 6.5)
  .attr("stroke-linecap", "round");

// frame
svg.append("rect")
  .attr("x", plot.left).attr("y", plot.top)
  .attr("width", plot.right - plot.left).attr("height", plot.bottom - plot.top)
  .attr("fill", "none").attr("stroke", "#000").attr("stroke-width", 1.5)
  .attr("shape-rendering", "crispEdges");

// price axis
const yAxis = svg.append("g")
  .attr("transform", `translate(${plot.right},0)`)
  .call(d3.axisRight(y).tickValues(priceTicks).tickFormat(d3.format(".1f")).tickSize(4).tickPadding(6));
yAxis.select(".domain").remove();
yAxis.selectAll("text").attr("font-family", font).attr("font-size", 18).attr("fill", "#000");
yAxis.selectAll("line").attr("stroke", "#000");

// time axis
const labelBars = timeLabels.map((t, i) => i * barsPerTimeLabel);
const xAxis = svg.append("g")
  .attr("transform", `translate(0,${plot.bottom})`)
  .call(d3.axisBottom(x).tickValues(labelBars).tickFormat((d, i) => timeLabels[i]).tickSize(5).tickPadding(7));
xAxis.select(".domain").remove();
xAxis.selectAll("text")
  .attr("text-anchor", "start")
  .attr("dx", 1)
  .attr("font-family", font).attr("font-size", 18).attr("fill", "#000");
xAxis.selectAll("line").attr("stroke", "#000");

// level price boxes on the axis
const boxes = svg.append("g");
boxes.selectAll("rect")
  .data(levelPrices)
  .join("rect")
  .attr("x", plot.right + 2)
  .attr("y", d => y(d) - 5)
  .attr("width", 70).attr("height", 22)
  .attr("fill", (d, i) => levelStyle[levelKinds[i]].color);
boxes.selectAll("text")
  .data(levelPrices)
  .join("text")
  .attr("x", plot.right + 9)
  .attr("y", d => y(d) + 12.5)
  .attr("font-family", font).attr("font-size", 18)
  .attr("fill", "#fff")
  .text(d => d3.format(".1f")(d));

// bid marker edge under the nearest level box
const bidLevel = levelPrices.reduce((a, b) => Math.abs(b - bidPrice) < Math.abs(a - bidPrice) ? b : a);
svg.append("line")
  .attr("x1", plot.right + 2).attr("x2", plot.right + 72)
  .attr("y1", y(bidLevel) + 17.5).attr("y2", y(bidLevel) + 17.5)
  .attr("stroke", "#000").attr("stroke-width", 2);

// title
svg.append("path")
  .attr("transform", "translate(16,19) rotate(180)")
  .attr("d", d3.symbol(d3.symbolTriangle, 60))
  .attr("fill", "#000");
svg.append("text")
  .attr("x", 33).attr("y", 26)
  .attr("font-family", font).attr("font-size", 18)
  .attr("fill", "#000")
  .attr("xml:space", "preserve")
  .style("white-space", "pre")
  .text(symbolTitle);

// chart shift marker and window border
svg.append("path")
  .attr("transform", `translate(${x(candles.length + 2)},4) rotate(180)`)
  .attr("d", d3.symbol(d3.symbolTriangle, 70))
  .attr("fill", "#a8a8a8");
svg.append("rect")
  .attr("x", 0.5).attr("y", 0.5).attr("width", 3838).attr("height", 1994)
  .attr("fill", "none").attr("stroke", "#c8c8c8").attr("stroke-width", 2);
</script>
</body>
</html>
